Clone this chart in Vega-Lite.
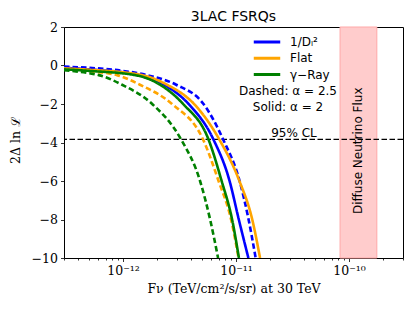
{
  "$schema": "https://vega.github.io/schema/vega-lite/v6.json",
  "width": 339,
  "height": 231,
  "autosize": {"type": "none"},
  "padding": {"left": 64, "top": 27, "right": 12, "bottom": 53},
  "background": "white",
  "title": {"text": "3LAC FSRQs", "font": "DejaVu Sans", "fontSize": 14, "fontWeight": "normal", "color": "black", "offset": -3},
  "config": {
    "view": {"stroke": "black", "strokeWidth": 1},
    "axis": {"domain": false, "grid": false, "tickColor": "black", "tickWidth": 0.8, "labelColor": "black", "titleColor": "black", "labelOverlap": false, "labelFlush": false, "labelSeparation": 0}
  },
  "datasets": {
    "curves": [
      {"F": 3e-13, "ll": -0.06, "model": "1/Dₗ²", "alpha": "2.5"},
      {"F": 5e-13, "ll": -0.12, "model": "1/Dₗ²", "alpha": "2.5"},
      {"F": 1.0e-12, "ll": -0.28, "model": "1/Dₗ²", "alpha": "2.5"},
      {"F": 1.63e-12, "ll": -0.5, "model": "1/Dₗ²", "alpha": "2.5"},
      {"F": 2.95e-12, "ll": -1.0, "model": "1/Dₗ²", "alpha": "2.5"},
      {"F": 5.15e-12, "ll": -2.0, "model": "1/Dₗ²", "alpha": "2.5"},
      {"F": 7.68e-12, "ll": -3.84, "model": "1/Dₗ²", "alpha": "2.5"},
      {"F": 1.074e-11, "ll": -6.0, "model": "1/Dₗ²", "alpha": "2.5"},
      {"F": 1.29e-11, "ll": -8.0, "model": "1/Dₗ²", "alpha": "2.5"},
      {"F": 1.49e-11, "ll": -10.0, "model": "1/Dₗ²", "alpha": "2.5"},

      {"F": 3e-13, "ll": -0.12, "model": "1/Dₗ²", "alpha": "2"},
      {"F": 5e-13, "ll": -0.2, "model": "1/Dₗ²", "alpha": "2"},
      {"F": 1.41e-12, "ll": -0.5, "model": "1/Dₗ²", "alpha": "2"},
      {"F": 2.31e-12, "ll": -1.0, "model": "1/Dₗ²", "alpha": "2"},
      {"F": 3.80e-12, "ll": -2.0, "model": "1/Dₗ²", "alpha": "2"},
      {"F": 6.3e-12, "ll": -3.84, "model": "1/Dₗ²", "alpha": "2"},
      {"F": 8.76e-12, "ll": -6.0, "model": "1/Dₗ²", "alpha": "2"},
      {"F": 1.057e-11, "ll": -8.0, "model": "1/Dₗ²", "alpha": "2"},
      {"F": 1.285e-11, "ll": -10.0, "model": "1/Dₗ²", "alpha": "2"},

      {"F": 3e-13, "ll": -0.18, "model": "Flat", "alpha": "2.5"},
      {"F": 5e-13, "ll": -0.3, "model": "Flat", "alpha": "2.5"},
      {"F": 8.85e-13, "ll": -0.5, "model": "Flat", "alpha": "2.5"},
      {"F": 1.41e-12, "ll": -1.0, "model": "Flat", "alpha": "2.5"},
      {"F": 2.71e-12, "ll": -2.0, "model": "Flat", "alpha": "2.5"},
      {"F": 5.1e-12, "ll": -3.84, "model": "Flat", "alpha": "2.5"},
      {"F": 7.0e-12, "ll": -6.0, "model": "Flat", "alpha": "2.5"},
      {"F": 9.03e-12, "ll": -8.0, "model": "Flat", "alpha": "2.5"},
      {"F": 1.052e-11, "ll": -10.0, "model": "Flat", "alpha": "2.5"},

      {"F": 3e-13, "ll": -0.15, "model": "Flat", "alpha": "2"},
      {"F": 5e-13, "ll": -0.22, "model": "Flat", "alpha": "2"},
      {"F": 1.47e-12, "ll": -0.5, "model": "Flat", "alpha": "2"},
      {"F": 2.45e-12, "ll": -1.0, "model": "Flat", "alpha": "2"},
      {"F": 4.25e-12, "ll": -2.0, "model": "Flat", "alpha": "2"},
      {"F": 7.1e-12, "ll": -3.84, "model": "Flat", "alpha": "2"},
      {"F": 1.07e-11, "ll": -6.0, "model": "Flat", "alpha": "2"},
      {"F": 1.39e-11, "ll": -8.0, "model": "Flat", "alpha": "2"},
      {"F": 1.63e-11, "ll": -10.0, "model": "Flat", "alpha": "2"},

      {"F": 3e-13, "ll": -0.25, "model": "γ−Ray", "alpha": "2.5"},
      {"F": 5e-13, "ll": -0.4, "model": "γ−Ray", "alpha": "2.5"},
      {"F": 6.1e-13, "ll": -0.5, "model": "γ−Ray", "alpha": "2.5"},
      {"F": 9.8e-13, "ll": -1.0, "model": "γ−Ray", "alpha": "2.5"},
      {"F": 1.81e-12, "ll": -2.0, "model": "γ−Ray", "alpha": "2.5"},
      {"F": 3.26e-12, "ll": -3.84, "model": "γ−Ray", "alpha": "2.5"},
      {"F": 4.8e-12, "ll": -6.0, "model": "γ−Ray", "alpha": "2.5"},
      {"F": 5.89e-12, "ll": -8.0, "model": "γ−Ray", "alpha": "2.5"},
      {"F": 6.93e-12, "ll": -10.0, "model": "γ−Ray", "alpha": "2.5"},

      {"F": 3e-13, "ll": -0.2, "model": "γ−Ray", "alpha": "2"},
      {"F": 5e-13, "ll": -0.28, "model": "γ−Ray", "alpha": "2"},
      {"F": 1.28e-12, "ll": -0.5, "model": "γ−Ray", "alpha": "2"},
      {"F": 2.13e-12, "ll": -1.0, "model": "γ−Ray", "alpha": "2"},
      {"F": 3.40e-12, "ll": -2.0, "model": "γ−Ray", "alpha": "2"},
      {"F": 5.7e-12, "ll": -3.84, "model": "γ−Ray", "alpha": "2"},
      {"F": 7.45e-12, "ll": -6.0, "model": "γ−Ray", "alpha": "2"},
      {"F": 9.22e-12, "ll": -8.0, "model": "γ−Ray", "alpha": "2"},
      {"F": 1.06e-11, "ll": -10.0, "model": "γ−Ray", "alpha": "2"}
    ],
    "band": [{"lo": 8.32e-11, "hi": 1.76e-10, "mid": 1.21e-10, "ypos": -4.43, "label": "Diffuse Neutrino Flux"}],
    "cl": [{"ll": -3.84, "F": 3.25e-11, "ytext": -3.5, "label": "95% CL"}],
    "notes": [
      {"F": 2.88e-11, "ll": -1.32, "label": "Dashed: α = 2.5"},
      {"F": 2.88e-11, "ll": -2.16, "label": "Solid: α = 2"}
    ]
  },
  "layer": [
    {
      "data": {"name": "band"},
      "mark": {"type": "rect", "fill": "#ffcccc", "stroke": "#ffa8a8", "strokeWidth": 1},
      "encoding": {
        "x": {"field": "lo", "type": "quantitative", "scale": {"type": "log", "domain": [3e-13, 3e-10], "nice": false},
          "axis": {
            "title": "Fν (TeV/cm²/s/sr) at 30 TeV",
            "titleFont": "DejaVu Serif", "titleFontSize": 12.5, "titleFontWeight": "normal",
            "titleY": 30, "titleBaseline": "middle",
            "values": [3e-13, 4e-13, 5e-13, 6e-13, 7e-13, 8e-13, 9e-13, 1e-12, 2e-12, 3e-12, 4e-12, 5e-12, 6e-12, 7e-12, 8e-12, 9e-12, 1e-11, 2e-11, 3e-11, 4e-11, 5e-11, 6e-11, 7e-11, 8e-11, 9e-11, 1e-10, 2e-10, 3e-10],
            "labelExpr": "abs(log(datum.value)/LN10 - round(log(datum.value)/LN10)) < 0.01 ? (round(log(datum.value)/LN10) == -12 ? '10⁻¹²' : round(log(datum.value)/LN10) == -11 ? '10⁻¹¹' : '10⁻¹⁰') : ''",
            "labelFont": "DejaVu Serif", "labelFontSize": 12.5, "labelPadding": 3,
            "tickSize": {"condition": {"test": "abs(log(datum.value)/LN10 - round(log(datum.value)/LN10)) < 0.01", "value": 3.5}, "value": 2}
          }
        },
        "x2": {"field": "hi"}
      }
    },
    {
      "data": {"name": "band"},
      "mark": {"type": "text", "angle": 270, "font": "DejaVu Sans", "fontSize": 12, "color": "black", "align": "center", "baseline": "middle"},
      "encoding": {
        "x": {"field": "mid", "type": "quantitative", "scale": {"type": "log", "domain": [3e-13, 3e-10], "nice": false}},
        "y": {"field": "ypos", "type": "quantitative", "scale": {"domain": [-10, 2], "nice": false},
          "axis": {
            "title": "2Δ ln ℒ", "titleFont": "DejaVu Serif", "titleFontSize": 12.5, "titleFontWeight": "normal",
            "titleX": -49, "titleY": 113, "titleAngle": 270, "titleAlign": "center", "titleBaseline": "middle",
            "values": [-10, -8, -6, -4, -2, 0, 2], "tickCount": 7,
            "labelFont": "DejaVu Serif", "labelFontSize": 12.5, "labelPadding": 3, "tickSize": 3.5
          }
        },
        "text": {"field": "label"}
      }
    },
    {
      "data": {"name": "cl"},
      "mark": {"type": "rule", "color": "black", "strokeWidth": 1.3, "strokeDash": [5.5, 2.5]},
      "encoding": {
        "y": {"field": "ll", "type": "quantitative", "scale": {"domain": [-10, 2], "nice": false},
          "axis": {
            "title": "2Δ ln ℒ", "titleFont": "DejaVu Serif", "titleFontSize": 12.5, "titleFontWeight": "normal",
            "titleX": -49, "titleY": 113, "titleAngle": 270, "titleAlign": "center", "titleBaseline": "middle",
            "values": [-10, -8, -6, -4, -2, 0, 2], "tickCount": 7,
            "labelFont": "DejaVu Serif", "labelFontSize": 12.5, "labelPadding": 3, "tickSize": 3.5
          }
        }
      }
    },
    {
      "data": {"name": "cl"},
      "mark": {"type": "text", "font": "DejaVu Sans", "fontSize": 12, "color": "black", "align": "center", "baseline": "middle"},
      "encoding": {
        "x": {"field": "F", "type": "quantitative", "scale": {"type": "log", "domain": [3e-13, 3e-10], "nice": false}},
        "y": {"field": "ytext", "type": "quantitative", "scale": {"domain": [-10, 2], "nice": false}},
        "text": {"field": "label"}
      }
    },
    {
      "data": {"name": "curves"},
      "mark": {"type": "line", "strokeWidth": 2.6, "interpolate": "monotone", "clip": true},
      "encoding": {
        "x": {"field": "F", "type": "quantitative", "scale": {"type": "log", "domain": [3e-13, 3e-10], "nice": false}},
        "y": {"field": "ll", "type": "quantitative", "scale": {"domain": [-10, 2], "nice": false}},
        "color": {"field": "model", "type": "nominal",
          "scale": {"domain": ["1/Dₗ²", "Flat", "γ−Ray"], "range": ["#0000ff", "#ffa500", "#008000"]},
          "legend": {"orient": "none", "legendX": 188, "legendY": 8, "title": null, "symbolType": "stroke",
            "symbolSize": 700, "symbolStrokeWidth": 3, "labelFont": "DejaVu Sans", "labelFontSize": 12,
            "labelColor": "black", "labelOffset": 8, "rowPadding": 2.3, "clipHeight": 14, "padding": 0}
        },
        "strokeDash": {"field": "alpha", "type": "nominal",
          "scale": {"domain": ["2.5", "2"], "range": [[5.5, 3], [1, 0]]}, "legend": null},
        "order": {"field": "F", "type": "quantitative"}
      }
    },
    {
      "data": {"name": "notes"},
      "mark": {"type": "text", "font": "DejaVu Sans", "fontSize": 12, "color": "black", "align": "center", "baseline": "middle"},
      "encoding": {
        "x": {"field": "F", "type": "quantitative", "scale": {"type": "log", "domain": [3e-13, 3e-10], "nice": false}},
        "y": {"field": "ll", "type": "quantitative", "scale": {"domain": [-10, 2], "nice": false}},
        "text": {"field": "label"}
      }
    }
  ]
}
